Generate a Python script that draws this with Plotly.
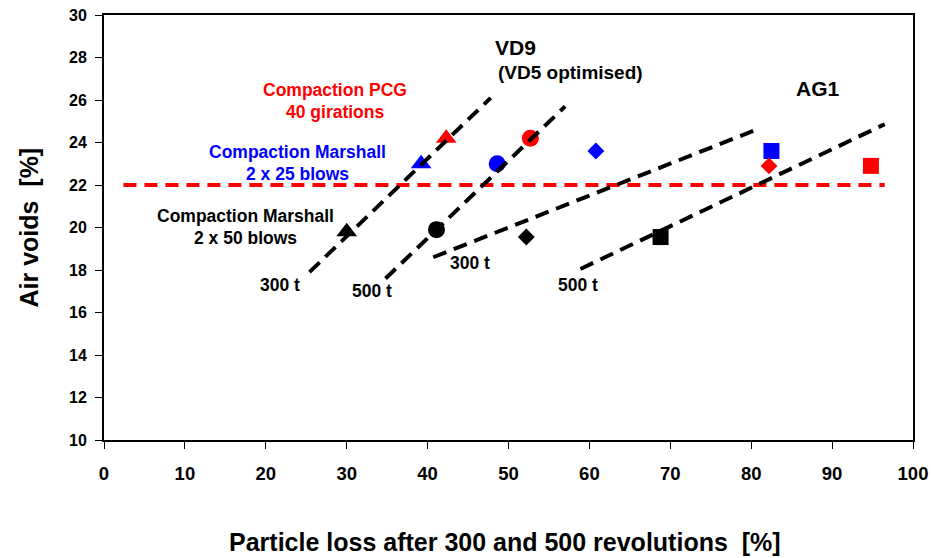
import plotly.graph_objects as go

# Data points (particle loss %, air voids %)
series_names = ["VD9 300t", "VD9 500t", "AG1 300t", "AG1 500t"]
symbols = ["triangle-up", "circle", "diamond", "square"]
# compaction: Marshall 2x50 (black), Marshall 2x25 (blue), PCG 40 girations (red)
x_black = [30.0, 41.1, 52.2, 68.8]
y_black = [19.8, 19.9, 19.55, 19.55]
x_blue = [39.2, 48.6, 60.8, 82.5]
y_blue = [23.0, 23.0, 23.6, 23.6]
x_red = [42.3, 52.7, 82.2, 94.8]
y_red = [24.2, 24.2, 22.9, 22.9]

# Trend lines (start/end)
trend_x = [[25.4, 47.8], [34.8, 57.0], [40.7, 80.6], [58.9, 96.5]]
trend_y = [[17.9, 26.1], [17.6, 25.7], [18.6, 24.6], [18.05, 24.86]]

limit_x = [2.4, 96.5]
limit_y = [22.0, 22.0]

x_ticks = list(range(0, 101, 10))
y_ticks = list(range(10, 31, 2))

FONT = "Liberation Sans, Arial, sans-serif"

fig = go.Figure()

sizes = {"triangle-up": 18, "circle": 17, "diamond": 13, "square": 16}
for xs, ys, col in [(x_black, y_black, "black"), (x_blue, y_blue, "#0000ff"), (x_red, y_red, "#ff0000")]:
    for i in range(4):
        fig.add_trace(go.Scatter(x=[xs[i]], y=[ys[i]], mode="markers",
                                 marker=dict(symbol=symbols[i], size=sizes[symbols[i]], color=col,
                                             line=dict(width=0)),
                                 showlegend=False, name=series_names[i]))

fig.add_trace(go.Scatter(x=limit_x, y=limit_y, mode="lines",
                         line=dict(color="#ff0000", width=4, dash="13px,8px"),
                         showlegend=False, hoverinfo="skip"))
for tx, ty in zip(trend_x, trend_y):
    fig.add_trace(go.Scatter(x=tx, y=ty, mode="lines",
                             line=dict(color="black", width=4, dash="14px,8px"),
                             showlegend=False, hoverinfo="skip"))

W, H = 931, 558
L, R, T, B = 103.5, 913, 15, 440
def px(xp, yp):
    return (xp - L) / (R - L), (B - yp) / (B - T)

def ann(text, xp_, yp_, size, color="black", angle=0):
    ax, ay = px(xp_, yp_)
    fig.add_annotation(text=text, x=ax, y=ay, xref="paper", yref="paper",
                       xanchor="center", yanchor="middle", showarrow=False, textangle=angle,
                       font=dict(family=FONT, size=size, color=color, weight="bold"))

labels = [
    ("VD9", 515, 47, 21, "black"),
    ("(VD5 optimised)", 570, 72, 19, "black"),
    ("Compaction PCG", 335, 90, 17.5, "#ff0000"),
    ("40 girations", 335, 111.5, 17.5, "#ff0000"),
    ("Compaction Marshall", 297, 152, 17.5, "#0000ff"),
    ("2 x 25 blows", 297, 174, 17.5, "#0000ff"),
    ("Compaction Marshall", 245, 216, 17.5, "black"),
    ("2 x 50 blows", 245, 238, 17.5, "black"),
    ("300 t", 279.5, 285, 17.5, "black"),
    ("500 t", 371.5, 291, 17.5, "black"),
    ("300 t", 470, 263, 17.5, "black"),
    ("500 t", 577.5, 285, 17.5, "black"),
    ("AG1", 818, 88, 21, "black"),
]
for t, xp_, yp_, s, c in labels:
    ann(t, xp_, yp_, s, c)

# axis titles
ann("Particle loss after 300 and 500 revolutions  [%]", 505, 542, 25)
ann("Air voids  [%]", 28, 228, 25, angle=-90)

axis_common = dict(showgrid=False, zeroline=False, showline=True, linecolor="black",
                   linewidth=2, mirror=True, ticks="outside", ticklen=7, tickwidth=1,
                   tickcolor="black", automargin=False)

fig.update_xaxes(range=[0, 100], tickvals=x_ticks, ticklabelstandoff=9,
                 tickfont=dict(family=FONT, size=18.5, color="black", weight="bold"),
                 **axis_common)
fig.update_yaxes(range=[10, 30], tickvals=y_ticks, ticklabelstandoff=5,
                 tickfont=dict(family=FONT, size=16, color="black", weight="bold"),
                 **axis_common)

fig.update_layout(width=W, height=H, plot_bgcolor="white", paper_bgcolor="white",
                  margin=dict(l=L, r=W - R, t=T, b=H - B), showlegend=False)

fig.write_html("out.html", config={"displayModeBar": False},
               post_script="document.body.style.margin='0';document.body.style.padding='0';document.body.style.overflow='hidden';")
